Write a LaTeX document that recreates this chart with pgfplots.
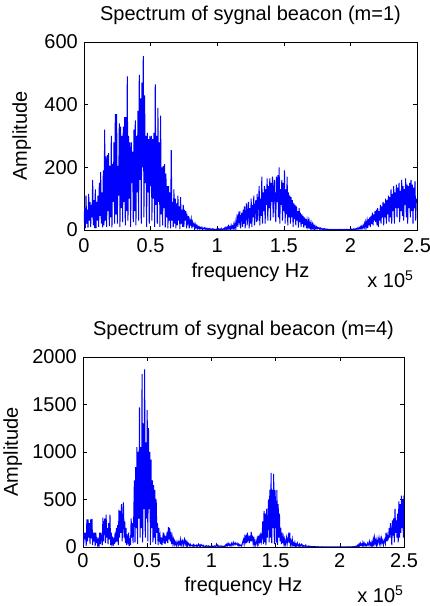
\documentclass[border=0pt]{standalone}
\usepackage{pgfplots}
\pgfplotsset{compat=1.18}
\usepackage{fontspec}
\setmainfont{Liberation Sans}
\definecolor{mblue}{RGB}{0,0,255}
\pgfplotsset{
  specstyle/.style={
    scale only axis,
    clip mode=individual,
    font=\fontsize{20bp}{24bp}\selectfont,
    /pgf/number format/assume math mode=true,
    xmin=0, xmax=2.5,
    xtick={0,0.5,1,1.5,2,2.5},
    xticklabels={0,0.5,1,1.5,2,2.5},
    tick align=inside,
    major tick length=4bp,
    axis line style={black, line width=0.6bp},
    every tick/.style={black, line width=0.6bp},
    scaled ticks=false,
    title style={anchor=base},
    xlabel style={anchor=base},
    ylabel style={anchor=base, rotate=0},
    yticklabel style={anchor=east, inner sep=0pt, xshift=-6bp},
  }
}
\begin{document}
\begin{tikzpicture}
\useasboundingbox (0,0) rectangle (430bp,606bp);
% ---------- top ----------
\begin{axis}[specstyle,
  at={(84bp,376bp)}, anchor=south west,
  width=333bp, height=188bp,
  ymin=0, ymax=600, ytick={0,200,400,600}, yticklabels={0,200,400,600},
  xticklabel style={anchor=base, yshift=-23bp},
  title={Spectrum of sygnal beacon (m=1)},
  title style={at={(axis description cs:0.5,1.0851)}},
  xlabel={frequency Hz},
  xlabel style={at={(axis description cs:0.5,-0.2553)}},
  ylabel={Amplitude},
  ylabel style={at={(axis description cs:-0.1712,0.5)}},
]
\addplot[mblue, line width=1bp, no marks] table[row sep=\\] {
x y\\
0 25\\ 0.005 70\\ 0.01 5\\ 0.015 110\\ 0.02 20\\ 0.025 65\\ 0.03 8\\ 0.035 115\\ 0.04 30\\ 0.045 90\\
0.05 10\\ 0.055 80\\ 0.06 40\\ 0.065 160\\ 0.07 15\\ 0.075 95\\ 0.08 6\\ 0.085 130\\ 0.09 5\\ 0.095 90\\
0.1 30\\ 0.105 110\\ 0.11 10\\ 0.115 150\\ 0.12 45\\ 0.125 185\\ 0.13 20\\ 0.135 120\\ 0.14 8\\ 0.145 190\\
0.15 15\\ 0.155 320\\ 0.16 30\\ 0.165 235\\ 0.17 10\\ 0.175 240\\ 0.18 60\\ 0.185 245\\ 0.19 12\\ 0.195 205\\
0.2 40\\ 0.205 300\\ 0.21 8\\ 0.215 210\\ 0.22 90\\ 0.225 280\\ 0.23 20\\ 0.235 370\\ 0.24 50\\ 0.245 370\\
0.25 20\\ 0.255 205\\ 0.26 110\\ 0.265 340\\ 0.27 10\\ 0.275 330\\ 0.28 70\\ 0.285 300\\ 0.29 25\\ 0.295 330\\
0.3 90\\ 0.305 360\\ 0.31 15\\ 0.315 360\\ 0.32 60\\ 0.325 490\\ 0.33 30\\ 0.335 300\\ 0.34 100\\ 0.345 280\\
0.35 10\\ 0.355 280\\ 0.36 150\\ 0.365 250\\ 0.37 25\\ 0.375 320\\ 0.38 60\\ 0.385 350\\ 0.39 15\\ 0.395 300\\
0.4 120\\ 0.405 380\\ 0.41 30\\ 0.415 495\\ 0.42 160\\ 0.425 420\\ 0.43 20\\ 0.435 470\\ 0.44 200\\ 0.445 555\\
0.45 40\\ 0.455 430\\ 0.46 150\\ 0.465 300\\ 0.47 10\\ 0.475 310\\ 0.48 120\\ 0.485 290\\ 0.49 20\\ 0.495 300\\
0.5 140\\ 0.505 300\\ 0.51 30\\ 0.515 290\\ 0.52 100\\ 0.525 310\\ 0.53 10\\ 0.535 465\\ 0.54 80\\ 0.545 300\\
0.55 20\\ 0.555 390\\ 0.56 90\\ 0.565 280\\ 0.57 10\\ 0.575 365\\ 0.58 50\\ 0.585 200\\ 0.59 15\\ 0.595 205\\
0.6 70\\ 0.605 210\\ 0.61 8\\ 0.615 180\\ 0.62 40\\ 0.625 140\\ 0.63 5\\ 0.635 140\\ 0.64 30\\ 0.645 120\\
0.65 5\\ 0.655 255\\ 0.66 30\\ 0.665 90\\ 0.67 10\\ 0.675 130\\ 0.68 20\\ 0.685 100\\ 0.69 5\\ 0.695 85\\
0.7 15\\ 0.705 110\\ 0.71 30\\ 0.715 75\\ 0.72 3\\ 0.725 105\\ 0.73 20\\ 0.735 65\\ 0.74 10\\ 0.745 80\\
0.75 10\\ 0.755 65\\ 0.76 30\\ 0.765 60\\ 0.77 5\\ 0.775 40\\ 0.78 25\\ 0.785 45\\ 0.79 5\\ 0.795 30\\
0.8 20\\ 0.805 35\\ 0.81 5\\ 0.815 25\\ 0.82 15\\ 0.825 20\\ 0.83 5\\ 0.835 18\\ 0.84 8\\ 0.845 14\\
0.85 3\\ 0.855 12\\ 0.86 6\\ 0.865 10\\ 0.87 2\\ 0.875 8\\ 0.88 5\\ 0.885 9\\ 0.89 1\\ 0.895 6\\
0.9 4\\ 0.905 7\\ 0.91 2\\ 0.915 6\\ 0.92 3\\ 0.925 5\\ 0.93 1\\ 0.935 4\\ 0.94 2\\ 0.945 5\\
0.95 1\\ 0.955 3\\ 0.96 2\\ 0.965 4\\ 0.97 1\\ 0.975 3\\ 0.98 2\\ 0.985 2\\ 0.99 1\\ 0.995 3\\
1 1\\ 1.005 2\\ 1.01 4\\ 1.015 1\\ 1.02 3\\ 1.025 2\\ 1.03 5\\ 1.035 1\\ 1.04 2\\ 1.045 4\\
1.05 2\\ 1.055 6\\ 1.06 1\\ 1.065 8\\ 1.07 3\\ 1.075 9\\ 1.08 2\\ 1.085 12\\ 1.09 4\\ 1.095 10\\
1.1 3\\ 1.105 15\\ 1.11 6\\ 1.115 12\\ 1.12 2\\ 1.125 18\\ 1.13 8\\ 1.135 25\\ 1.14 4\\ 1.145 20\\
1.15 50\\ 1.155 10\\ 1.16 45\\ 1.165 30\\ 1.17 60\\ 1.175 5\\ 1.18 40\\ 1.185 55\\ 1.19 10\\ 1.195 65\\
1.2 20\\ 1.205 75\\ 1.21 5\\ 1.215 55\\ 1.22 85\\ 1.225 15\\ 1.23 60\\ 1.235 90\\ 1.24 5\\ 1.245 70\\
1.25 20\\ 1.255 100\\ 1.26 10\\ 1.265 80\\ 1.27 40\\ 1.275 110\\ 1.28 15\\ 1.285 70\\ 1.29 95\\ 1.295 25\\
1.3 115\\ 1.305 30\\ 1.31 85\\ 1.315 140\\ 1.32 15\\ 1.325 100\\ 1.33 45\\ 1.335 170\\ 1.34 20\\ 1.345 120\\
1.35 60\\ 1.355 140\\ 1.36 20\\ 1.365 130\\ 1.37 80\\ 1.375 165\\ 1.38 30\\ 1.385 140\\ 1.39 70\\ 1.395 165\\
1.4 30\\ 1.405 150\\ 1.41 90\\ 1.415 170\\ 1.42 40\\ 1.425 135\\ 1.43 160\\ 1.435 60\\ 1.44 25\\ 1.445 170\\
1.45 90\\ 1.455 175\\ 1.46 40\\ 1.465 200\\ 1.47 20\\ 1.475 130\\ 1.48 80\\ 1.485 160\\ 1.49 30\\ 1.495 150\\
1.5 60\\ 1.505 190\\ 1.51 20\\ 1.515 130\\ 1.52 50\\ 1.525 170\\ 1.53 15\\ 1.535 120\\ 1.54 40\\ 1.545 110\\
1.55 20\\ 1.555 105\\ 1.56 40\\ 1.565 95\\ 1.57 10\\ 1.575 85\\ 1.58 35\\ 1.585 80\\ 1.59 15\\ 1.595 75\\
1.6 30\\ 1.605 60\\ 1.61 8\\ 1.615 70\\ 1.62 25\\ 1.625 55\\ 1.63 10\\ 1.635 50\\ 1.64 20\\ 1.645 45\\
1.65 8\\ 1.655 40\\ 1.66 15\\ 1.665 35\\ 1.67 5\\ 1.675 30\\ 1.68 12\\ 1.685 28\\ 1.69 4\\ 1.695 25\\
1.7 8\\ 1.705 22\\ 1.71 3\\ 1.715 18\\ 1.72 6\\ 1.725 15\\ 1.73 2\\ 1.735 12\\ 1.74 5\\ 1.745 10\\
1.75 3\\ 1.755 8\\ 1.76 5\\ 1.765 7\\ 1.77 2\\ 1.775 6\\ 1.78 3\\ 1.785 5\\ 1.79 1\\ 1.795 4\\
1.8 2\\ 1.805 4\\ 1.81 1\\ 1.815 3\\ 1.82 2\\ 1.825 3\\ 1.83 1\\ 1.835 2\\ 1.84 1\\ 1.845 2\\
1.85 1\\ 1.855 2\\ 1.86 1\\ 1.865 1\\ 1.87 2\\ 1.875 1\\ 1.88 1\\ 1.885 2\\ 1.89 1\\ 1.895 1\\
1.9 1\\ 1.905 1\\ 1.91 2\\ 1.915 1\\ 1.92 1\\ 1.925 2\\ 1.93 1\\ 1.935 1\\ 1.94 1\\ 1.945 2\\
1.95 1\\ 1.955 2\\ 1.96 1\\ 1.965 1\\ 1.97 2\\ 1.975 1\\ 1.98 2\\ 1.985 1\\ 1.99 1\\ 1.995 2\\
2 1\\ 2.005 2\\ 2.01 3\\ 2.015 1\\ 2.02 2\\ 2.025 4\\ 2.03 1\\ 2.035 3\\ 2.04 2\\ 2.045 5\\
2.05 2\\ 2.055 6\\ 2.06 3\\ 2.065 8\\ 2.07 4\\ 2.075 10\\ 2.08 3\\ 2.085 12\\ 2.09 6\\ 2.095 14\\
2.1 8\\ 2.105 20\\ 2.11 5\\ 2.115 25\\ 2.12 12\\ 2.125 30\\ 2.13 6\\ 2.135 35\\ 2.14 15\\ 2.145 40\\
2.15 10\\ 2.155 45\\ 2.16 20\\ 2.165 55\\ 2.17 15\\ 2.175 50\\ 2.18 30\\ 2.185 60\\ 2.19 25\\ 2.195 65\\
2.2 15\\ 2.205 70\\ 2.21 10\\ 2.215 60\\ 2.22 30\\ 2.225 80\\ 2.23 20\\ 2.235 75\\ 2.24 40\\ 2.245 90\\
2.25 15\\ 2.255 85\\ 2.26 40\\ 2.265 100\\ 2.27 20\\ 2.275 95\\ 2.28 50\\ 2.285 110\\ 2.29 25\\ 2.295 105\\
2.3 40\\ 2.305 130\\ 2.31 20\\ 2.315 115\\ 2.32 60\\ 2.325 140\\ 2.33 20\\ 2.335 120\\ 2.34 70\\ 2.345 145\\
2.35 40\\ 2.355 135\\ 2.36 70\\ 2.365 150\\ 2.37 25\\ 2.375 125\\ 2.38 60\\ 2.385 160\\ 2.39 45\\ 2.395 140\\
2.4 30\\ 2.405 130\\ 2.41 80\\ 2.415 165\\ 2.42 40\\ 2.425 145\\ 2.43 20\\ 2.435 140\\ 2.44 70\\ 2.445 150\\
2.45 40\\ 2.455 160\\ 2.46 60\\ 2.465 145\\ 2.47 20\\ 2.475 135\\ 2.48 70\\ 2.485 155\\ 2.49 30\\ 2.495 95\\
2.5 100\\
};
\node[anchor=base east] at (axis description cs:1,-0.3085) {x 10\textsuperscript{5}};
\end{axis}
% ---------- bottom ----------
\begin{axis}[specstyle,
  at={(83bp,59bp)}, anchor=south west,
  width=321bp, height=190bp,
  ymin=0, ymax=2000, ytick={0,500,1000,1500,2000}, yticklabels={0,500,1000,1500,2000},
  xticklabel style={anchor=base, yshift=-20bp},
  title={Spectrum of sygnal beacon (m=4)},
  title style={at={(axis description cs:0.5,1.0842)}},
  xlabel={frequency Hz},
  xlabel style={at={(axis description cs:0.5,-0.2316)}},
  ylabel={Amplitude},
  ylabel style={at={(axis description cs:-0.2025,0.5)}},
]
\addplot[mblue, line width=1bp, no marks] table[row sep=\\] {
x y\\
0 150\\ 0.005 20\\ 0.01 150\\ 0.015 80\\ 0.02 150\\ 0.025 10\\ 0.03 290\\ 0.035 60\\ 0.04 290\\ 0.045 100\\
0.05 250\\ 0.055 30\\ 0.06 290\\ 0.065 90\\ 0.07 295\\ 0.075 20\\ 0.08 150\\ 0.085 60\\ 0.09 150\\ 0.095 10\\
0.1 150\\ 0.105 40\\ 0.11 100\\ 0.115 10\\ 0.12 60\\ 0.125 5\\ 0.13 150\\ 0.135 30\\ 0.14 150\\ 0.145 80\\
0.15 20\\ 0.155 310\\ 0.16 60\\ 0.165 250\\ 0.17 300\\ 0.175 40\\ 0.18 340\\ 0.185 100\\ 0.19 200\\ 0.195 30\\
0.2 250\\ 0.205 80\\ 0.21 340\\ 0.215 20\\ 0.22 150\\ 0.225 40\\ 0.23 80\\ 0.235 10\\ 0.24 100\\ 0.245 30\\
0.25 150\\ 0.255 50\\ 0.26 200\\ 0.265 60\\ 0.27 230\\ 0.275 20\\ 0.28 390\\ 0.285 100\\ 0.29 380\\ 0.295 150\\
0.3 450\\ 0.305 60\\ 0.31 300\\ 0.315 470\\ 0.32 100\\ 0.325 270\\ 0.33 40\\ 0.335 200\\ 0.34 20\\ 0.345 100\\
0.35 60\\ 0.355 150\\ 0.36 10\\ 0.365 60\\ 0.37 20\\ 0.375 300\\ 0.38 100\\ 0.385 250\\ 0.39 40\\ 0.395 300\\
0.4 700\\ 0.405 50\\ 0.41 840\\ 0.415 200\\ 0.42 1050\\ 0.425 30\\ 0.43 1000\\ 0.435 300\\ 0.44 1470\\ 0.445 100\\
0.45 1050\\ 0.455 200\\ 0.46 1820\\ 0.465 50\\ 0.47 1300\\ 0.475 400\\ 0.48 1870\\ 0.485 100\\ 0.49 1100\\ 0.495 300\\
0.5 1440\\ 0.505 60\\ 0.51 1250\\ 0.515 400\\ 0.52 1000\\ 0.525 20\\ 0.53 920\\ 0.535 200\\ 0.54 700\\ 0.545 50\\
0.55 650\\ 0.555 100\\ 0.56 600\\ 0.565 30\\ 0.57 500\\ 0.575 150\\ 0.58 250\\ 0.585 20\\ 0.59 200\\ 0.595 80\\
0.6 120\\ 0.605 30\\ 0.61 100\\ 0.615 20\\ 0.62 80\\ 0.625 150\\ 0.63 40\\ 0.635 100\\ 0.64 30\\ 0.645 120\\
0.65 60\\ 0.655 160\\ 0.66 40\\ 0.665 210\\ 0.67 80\\ 0.675 200\\ 0.68 60\\ 0.685 160\\ 0.69 30\\ 0.695 100\\
0.7 40\\ 0.705 80\\ 0.71 20\\ 0.715 60\\ 0.72 30\\ 0.725 50\\ 0.73 10\\ 0.735 40\\ 0.74 60\\ 0.745 20\\
0.75 50\\ 0.755 30\\ 0.76 80\\ 0.765 20\\ 0.77 60\\ 0.775 70\\ 0.78 10\\ 0.785 50\\ 0.79 80\\ 0.795 30\\
0.8 60\\ 0.805 20\\ 0.81 50\\ 0.815 10\\ 0.82 40\\ 0.825 30\\ 0.83 15\\ 0.835 30\\ 0.84 10\\ 0.845 20\\
0.85 20\\ 0.855 10\\ 0.86 25\\ 0.865 5\\ 0.87 20\\ 0.875 15\\ 0.88 10\\ 0.885 20\\ 0.89 5\\ 0.895 15\\
0.9 30\\ 0.905 10\\ 0.91 20\\ 0.915 5\\ 0.92 25\\ 0.925 15\\ 0.93 10\\ 0.935 20\\ 0.94 5\\ 0.945 10\\
0.95 10\\ 0.955 5\\ 0.96 15\\ 0.965 8\\ 0.97 10\\ 0.975 5\\ 0.98 12\\ 0.985 6\\ 0.99 8\\ 0.995 5\\
1 8\\ 1.005 5\\ 1.01 10\\ 1.015 4\\ 1.02 8\\ 1.025 12\\ 1.03 5\\ 1.035 8\\ 1.04 30\\ 1.045 10\\
1.05 20\\ 1.055 5\\ 1.06 10\\ 1.065 8\\ 1.07 12\\ 1.075 6\\ 1.08 10\\ 1.085 5\\ 1.09 8\\ 1.095 6\\
1.1 10\\ 1.105 5\\ 1.11 20\\ 1.115 10\\ 1.12 30\\ 1.125 15\\ 1.13 40\\ 1.135 20\\ 1.14 30\\ 1.145 10\\
1.15 20\\ 1.155 40\\ 1.16 15\\ 1.165 30\\ 1.17 50\\ 1.175 20\\ 1.18 35\\ 1.185 45\\ 1.19 25\\ 1.195 30\\
1.2 40\\ 1.205 20\\ 1.21 30\\ 1.215 10\\ 1.22 25\\ 1.225 15\\ 1.23 20\\ 1.235 10\\ 1.24 30\\ 1.245 60\\
1.25 80\\ 1.255 30\\ 1.26 100\\ 1.265 60\\ 1.27 130\\ 1.275 40\\ 1.28 150\\ 1.285 80\\ 1.29 100\\ 1.295 40\\
1.3 120\\ 1.305 60\\ 1.31 160\\ 1.315 80\\ 1.32 100\\ 1.325 40\\ 1.33 110\\ 1.335 30\\ 1.34 60\\ 1.345 20\\
1.35 40\\ 1.355 80\\ 1.36 30\\ 1.365 120\\ 1.37 50\\ 1.375 100\\ 1.38 40\\ 1.385 150\\ 1.39 60\\ 1.395 100\\
1.4 270\\ 1.405 30\\ 1.41 380\\ 1.415 50\\ 1.42 350\\ 1.425 20\\ 1.43 400\\ 1.435 100\\ 1.44 300\\ 1.445 500\\
1.45 50\\ 1.455 600\\ 1.46 100\\ 1.465 780\\ 1.47 40\\ 1.475 600\\ 1.48 200\\ 1.485 770\\ 1.49 30\\ 1.495 600\\
1.5 450\\ 1.505 50\\ 1.51 600\\ 1.515 20\\ 1.52 450\\ 1.525 100\\ 1.53 350\\ 1.535 60\\ 1.54 200\\ 1.545 30\\
1.55 150\\ 1.555 40\\ 1.56 100\\ 1.565 30\\ 1.57 80\\ 1.575 20\\ 1.58 60\\ 1.585 100\\ 1.59 30\\ 1.595 80\\
1.6 120\\ 1.605 40\\ 1.61 150\\ 1.615 20\\ 1.62 60\\ 1.625 30\\ 1.63 80\\ 1.635 10\\ 1.64 40\\ 1.645 20\\
1.65 50\\ 1.655 10\\ 1.66 30\\ 1.665 5\\ 1.67 40\\ 1.675 20\\ 1.68 10\\ 1.685 30\\ 1.69 5\\ 1.695 20\\
1.7 30\\ 1.705 10\\ 1.71 20\\ 1.715 5\\ 1.72 15\\ 1.725 10\\ 1.73 5\\ 1.735 20\\ 1.74 8\\ 1.745 5\\
1.75 5\\ 1.755 10\\ 1.76 3\\ 1.765 8\\ 1.77 5\\ 1.775 6\\ 1.78 2\\ 1.785 5\\ 1.79 3\\ 1.795 4\\
1.8 3\\ 1.805 5\\ 1.81 2\\ 1.815 4\\ 1.82 1\\ 1.825 3\\ 1.83 2\\ 1.835 3\\ 1.84 1\\ 1.845 2\\
1.85 2\\ 1.855 1\\ 1.86 3\\ 1.865 1\\ 1.87 2\\ 1.875 1\\ 1.88 2\\ 1.885 1\\ 1.89 1\\ 1.895 2\\
1.9 1\\ 1.905 2\\ 1.91 1\\ 1.915 1\\ 1.92 2\\ 1.925 1\\ 1.93 1\\ 1.935 2\\ 1.94 1\\ 1.945 1\\
1.95 1\\ 1.955 1\\ 1.96 2\\ 1.965 1\\ 1.97 1\\ 1.975 1\\ 1.98 2\\ 1.985 1\\ 1.99 1\\ 1.995 2\\
2 2\\ 2.005 1\\ 2.01 1\\ 2.015 2\\ 2.02 1\\ 2.025 1\\ 2.03 2\\ 2.035 1\\ 2.04 2\\ 2.045 1\\
2.05 1\\ 2.055 2\\ 2.06 1\\ 2.065 3\\ 2.07 1\\ 2.075 2\\ 2.08 1\\ 2.085 3\\ 2.09 2\\ 2.095 1\\
2.1 3\\ 2.105 1\\ 2.11 5\\ 2.115 2\\ 2.12 8\\ 2.125 3\\ 2.13 10\\ 2.135 5\\ 2.14 20\\ 2.145 8\\
2.15 30\\ 2.155 10\\ 2.16 40\\ 2.165 20\\ 2.17 30\\ 2.175 10\\ 2.18 50\\ 2.185 20\\ 2.19 40\\ 2.195 15\\
2.2 30\\ 2.205 10\\ 2.21 20\\ 2.215 40\\ 2.22 15\\ 2.225 30\\ 2.23 60\\ 2.235 20\\ 2.24 40\\ 2.245 10\\
2.25 50\\ 2.255 20\\ 2.26 80\\ 2.265 30\\ 2.27 100\\ 2.275 40\\ 2.28 70\\ 2.285 20\\ 2.29 80\\ 2.295 30\\
2.3 60\\ 2.305 100\\ 2.31 40\\ 2.315 80\\ 2.32 30\\ 2.325 90\\ 2.33 50\\ 2.335 70\\ 2.34 20\\ 2.345 60\\
2.35 80\\ 2.355 40\\ 2.36 150\\ 2.365 60\\ 2.37 120\\ 2.375 80\\ 2.38 100\\ 2.385 200\\ 2.39 100\\ 2.395 250\\
2.4 180\\ 2.405 20\\ 2.41 280\\ 2.415 120\\ 2.42 300\\ 2.425 50\\ 2.43 400\\ 2.435 150\\ 2.44 280\\ 2.445 100\\
2.45 350\\ 2.455 50\\ 2.46 480\\ 2.465 100\\ 2.47 450\\ 2.475 150\\ 2.48 540\\ 2.485 200\\ 2.49 500\\ 2.495 100\\
2.5 540\\
};
\node[anchor=base east] at (axis description cs:1.0093,-0.2947) {x 10\textsuperscript{5}};
\end{axis}
\end{tikzpicture}
\end{document}
